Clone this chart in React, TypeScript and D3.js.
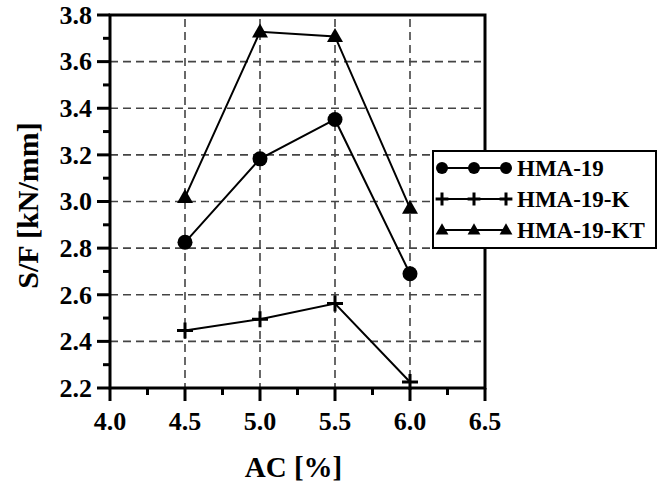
import * as d3 from 'd3'

const acValues = [4.5, 5.0, 5.5, 6.0]
const hma19 = [2.825, 3.183, 3.352, 2.69]
const hma19K = [2.447, 2.495, 2.562, 2.226]
const hma19KT = [3.018, 3.728, 3.708, 2.972]
const seriesNames = ['HMA-19', 'HMA-19-K', 'HMA-19-KT']
const xTicks = [4.0, 4.5, 5.0, 5.5, 6.0, 6.5]
const yTicks = [2.2, 2.4, 2.6, 2.8, 3.0, 3.2, 3.4, 3.6, 3.8]

const W = 661
const H = 487
const margin = { top: 15, right: 176, bottom: 99, left: 110 }
const font = "'Liberation Serif'"

function Marker({ kind, x, y, s = 1 }: { kind: string; x: number; y: number; s?: number }) {
  if (kind === 'circle') return <circle cx={x} cy={y} r={7.5 * s} fill="#000" />
  if (kind === 'plus')
    return (
      <path
        d={`M${x - 8 * s},${y}H${x + 8 * s}M${x},${y - 8 * s}V${y + 8 * s}`}
        stroke="#000"
        strokeWidth={3}
      />
    )
  const h = 14 * s
  const w = 16 * s
  return (
    <path
      d={`M${x},${y - h * 0.6}L${x + w / 2},${y + h * 0.4}L${x - w / 2},${y + h * 0.4}Z`}
      fill="#000"
    />
  )
}

export default function App() {
  const x = d3.scaleLinear().domain([4.0, 6.5]).range([margin.left, W - margin.right])
  const y = d3.scaleLinear().domain([2.2, 3.8]).range([H - margin.bottom, margin.top])
  const [x0, x1] = x.range()
  const [y0, y1] = y.range()

  const series = [
    { name: seriesNames[0], values: hma19, kind: 'circle' },
    { name: seriesNames[1], values: hma19K, kind: 'plus' },
    { name: seriesNames[2], values: hma19KT, kind: 'triangle' },
  ]

  const line = d3
    .line<number>()
    .x((_, i) => x(acValues[i]))
    .y(d => y(d))

  const xMinor = d3.range(4.25, 6.5, 0.5)
  const yMinor = d3.range(2.3, 3.8, 0.2)

  const leg = { x: 433, y: 151, w: 223, h: 97 }
  const txt = (size: number) => ({ fontFamily: font, fontWeight: 'bold' as const, fontSize: size })

  return (
    <svg width={W} height={H} style={{ position: 'absolute', left: 0, top: 0, background: '#fff' }}>
      {/* grid */}
      <g stroke="#444" strokeWidth={1.6} strokeDasharray="8,5">
        {acValues.map(v => (
          <line key={'gx' + v} x1={x(v)} x2={x(v)} y1={y1 + 4} y2={y0} />
        ))}
        {yTicks.slice(1, -1).map(v => (
          <line key={'gy' + v} x1={x0} x2={x1 - 4} y1={y(v)} y2={y(v)} />
        ))}
      </g>

      {/* frame */}
      <rect x={x0} y={y1} width={x1 - x0} height={y0 - y1} fill="none" stroke="#000" strokeWidth={3} />

      {/* ticks */}
      <g stroke="#000" strokeWidth={3}>
        {yTicks.map(v => (
          <line key={'yt' + v} x1={x0 - 13} x2={x0} y1={y(v)} y2={y(v)} />
        ))}
        {yMinor.map(v => (
          <line key={'ym' + v} x1={x0 - 7} x2={x0} y1={y(v)} y2={y(v)} />
        ))}
        {xTicks.map(v => (
          <line key={'xt' + v} x1={x(v)} x2={x(v)} y1={y0} y2={y0 + 13} />
        ))}
        {xMinor.map(v => (
          <line key={'xm' + v} x1={x(v)} x2={x(v)} y1={y0} y2={y0 + 7} />
        ))}
      </g>

      {yTicks.map(v => (
        <text key={'yl' + v} x={x0 - 18} y={y(v)} dy="0.34em" textAnchor="end" style={txt(26)}>
          {d3.format('.1f')(v)}
        </text>
      ))}
      {xTicks.map(v => (
        <text key={'xl' + v} x={x(v)} y={430} textAnchor="middle" style={txt(26)}>
          {d3.format('.1f')(v)}
        </text>
      ))}

      <text x={(x0 + x1) / 2 - 4} y={477} textAnchor="middle" style={txt(29)}>
        AC [%]
      </text>
      <text
        transform={`translate(38,${(y0 + y1) / 2 + 4}) rotate(-90)`}
        textAnchor="middle"
        style={txt(30)}
      >
        S/F [kN/mm]
      </text>

      {/* series */}
      {series.map(s => (
        <g key={s.name}>
          <path d={line(s.values) ?? ''} fill="none" stroke="#000" strokeWidth={2} />
          {s.values.map((v, i) => (
            <Marker key={i} kind={s.kind} x={x(acValues[i])} y={y(v)} />
          ))}
        </g>
      ))}

      {/* legend */}
      <rect x={leg.x} y={leg.y} width={leg.w} height={leg.h} fill="#fff" stroke="#000" strokeWidth={2} />
      {series.map((s, i) => {
        const ry = leg.y + 17 + i * 31
        return (
          <g key={'lg' + s.name}>
            <line x1={442} x2={506} y1={ry} y2={ry} stroke="#000" strokeWidth={2} />
            {[442, 474, 506].map(mx => (
              <Marker key={mx} kind={s.kind} x={mx} y={ry} s={0.8} />
            ))}
            <text x={517} y={ry} dy="0.34em" style={txt(23)}>
              {s.name}
            </text>
          </g>
        )
      })}
    </svg>
  )
}
